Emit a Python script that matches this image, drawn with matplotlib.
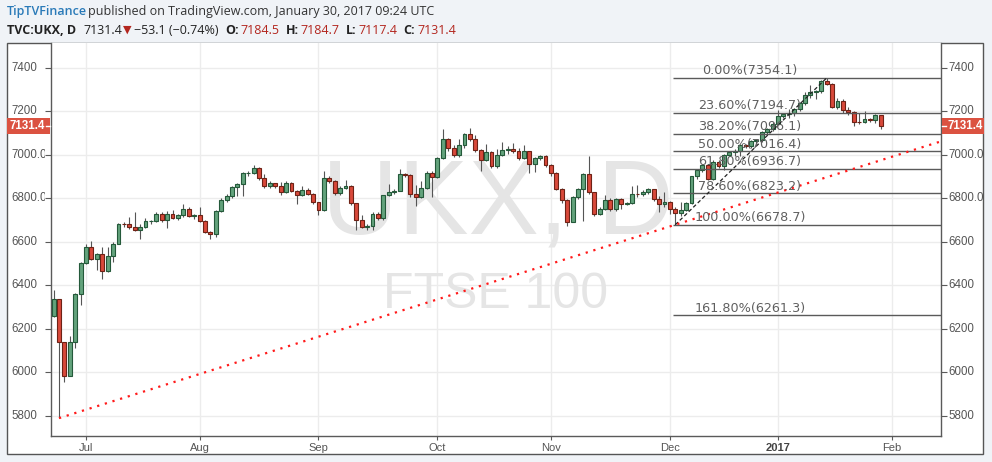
import numpy as np
import pandas as pd
import matplotlib
matplotlib.use("Agg")
import matplotlib.pyplot as plt
from matplotlib.transforms import Bbox, TransformedBbox, blended_transform_factory
from matplotlib.patches import Rectangle

# ---------------- data ----------------
holidays = ['2016-08-29', '2016-12-26', '2016-12-27', '2017-01-02']
dates = pd.bdate_range('2016-06-23', '2017-01-30', freq='C', holidays=holidays)

opens = [6261, 6338, 6139, 5982, 6140, 6360, 6504, 6578, 6522, 6545,
         6464, 6534, 6591, 6683, 6681, 6670, 6654, 6669, 6695, 6697,
         6729, 6700, 6730, 6710, 6724, 6750, 6721, 6724, 6694, 6645,
         6634, 6740, 6793, 6809, 6851, 6866, 6915, 6916, 6941, 6894,
         6859, 6869, 6859, 6829, 6869, 6836, 6817, 6838, 6821, 6782,
         6746, 6895, 6879, 6826, 6847, 6859, 6777, 6701, 6666, 6673,
         6730, 6710, 6814, 6831, 6835, 6911, 6909, 6818, 6808, 6849,
         6919, 6899, 6984, 7074, 7033, 7000, 7044, 7098, 7071, 7024,
         6978, 7014, 6948, 7000, 7022, 7027, 7020, 6986, 7017, 6958,
         6987, 6996, 6954, 6917, 6845, 6791, 6693, 6807, 6843, 6912,
         6828, 6730, 6753, 6793, 6750, 6795, 6776, 6778, 6820, 6818,
         6829, 6841, 6799, 6772, 6784, 6753, 6731, 6747, 6780, 6902,
         6932, 6954, 6890, 6969, 6949, 6999, 7012, 7017, 7044, 7041,
         7064, 7068, 7106, 7120, 7143, 7178, 7190, 7195, 7210, 7238,
         7275, 7290, 7292, 7338, 7327, 7220, 7248, 7208, 7198, 7151,
         7150, 7164, 7161, 7184.5]
highs = [6378, 6338, 6139, 6166, 6364, 6505, 6590, 6605, 6548, 6575,
         6577, 6598, 6686, 6690, 6714, 6737, 6680, 6710, 6700, 6735,
         6735, 6740, 6748, 6730, 6775, 6760, 6730, 6760, 6700, 6650,
         6745, 6800, 6822, 6857, 6870, 6920, 6925, 6953, 6945, 6914,
         6880, 6872, 6875, 6880, 6875, 6840, 6855, 6850, 6825, 6785,
         6925, 6905, 6885, 6855, 6883, 6862, 6780, 6723, 6680, 6738,
         6738, 6815, 6865, 6845, 6935, 6915, 6912, 6860, 6880, 6925,
         6925, 6990, 7120, 7078, 7045, 7075, 7100, 7123, 7090, 7028,
         7050, 7018, 7025, 7058, 7040, 7055, 7030, 7045, 7020, 6990,
         7000, 7000, 6960, 6920, 6850, 6795, 6810, 6850, 6915, 6997,
         6830, 6760, 6815, 6800, 6800, 6800, 6785, 6855, 6860, 6840,
         6850, 6845, 6810, 6830, 6790, 6760, 6785, 6785, 6905, 6935,
         6960, 6955, 6975, 6975, 7005, 7020, 7025, 7050, 7050, 7068,
         7075, 7110, 7125, 7150, 7205, 7195, 7210, 7215, 7245, 7290,
         7322, 7300, 7346, 7354.1, 7330, 7260, 7255, 7220, 7200, 7195,
         7200, 7170, 7190, 7184.7]
lows = [6255, 5788.7, 5953, 5982, 6110, 6310, 6499, 6515, 6470, 6431,
        6460, 6508, 6591, 6668, 6660, 6650, 6614, 6662, 6682, 6690,
        6690, 6664, 6705, 6700, 6715, 6712, 6705, 6690, 6640, 6614,
        6620, 6735, 6785, 6800, 6809, 6811, 6905, 6910, 6885, 6850,
        6850, 6850, 6815, 6825, 6830, 6775, 6810, 6815, 6775, 6722,
        6740, 6870, 6815, 6815, 6845, 6770, 6654, 6662, 6655, 6655,
        6700, 6700, 6810, 6820, 6832, 6900, 6805, 6766, 6800, 6845,
        6808, 6895, 6980, 7020, 6990, 6990, 7030, 7065, 7015, 6928,
        6970, 6940, 6942, 6995, 7005, 7010, 6975, 6980, 6915, 6920,
        6975, 6945, 6905, 6840, 6780, 6672, 6690, 6795, 6695, 6820,
        6720, 6725, 6745, 6740, 6740, 6750, 6770, 6775, 6805, 6810,
        6820, 6790, 6735, 6760, 6730, 6678.7, 6720, 6740, 6775, 6890,
        6920, 6883, 6885, 6940, 6930, 6995, 6995, 6995, 7030, 7030,
        7050, 7060, 7095, 7110, 7140, 7170, 7170, 7180, 7200, 7230,
        7260, 7255, 7285, 7320, 7215, 7210, 7195, 7185, 7131, 7140,
        7145, 7150, 7145, 7117.4]
closes = [6338, 6139, 5982, 6140, 6360, 6504, 6578, 6522, 6545, 6464,
          6534, 6591, 6683, 6681, 6670, 6654, 6669, 6695, 6697, 6729,
          6700, 6730, 6710, 6724, 6750, 6721, 6724, 6694, 6645, 6634,
          6740, 6793, 6809, 6851, 6866, 6915, 6916, 6941, 6894, 6859,
          6869, 6859, 6829, 6869, 6836, 6817, 6838, 6821, 6782, 6746,
          6895, 6879, 6826, 6847, 6859, 6777, 6701, 6666, 6673, 6730,
          6710, 6814, 6831, 6835, 6911, 6909, 6818, 6808, 6849, 6919,
          6899, 6984, 7074, 7033, 7000, 7044, 7098, 7071, 7024, 6978,
          7014, 6948, 7000, 7022, 7027, 7020, 6986, 7017, 6958, 6987,
          6996, 6954, 6917, 6845, 6791, 6693, 6807, 6843, 6912, 6828,
          6730, 6753, 6793, 6750, 6795, 6776, 6778, 6820, 6818, 6829,
          6841, 6799, 6772, 6784, 6753, 6731, 6747, 6780, 6902, 6932,
          6954, 6890, 6969, 6949, 6999, 7012, 7017, 7044, 7041, 7064,
          7068, 7106, 7120, 7143, 7178, 7190, 7195, 7210, 7238, 7275,
          7290, 7292, 7338, 7327, 7220, 7248, 7208, 7198, 7151, 7150,
          7164, 7161, 7184, 7131.4]

fib_labels = ['0.00%', '23.60%', '38.20%', '50.00%', '61.80%', '78.60%', '100.00%', '161.80%']
fib_values = [7354.1, 7194.7, 7096.1, 7016.4, 6936.7, 6823.2, 6678.7, 6261.3]
fib_low_date = '2016-12-02'
fib_high_date = '2017-01-16'
trend_dates = ['2016-06-24', '2016-12-02']
trend_values = [5788.7, 6678.7]

y_ticks = [5800, 6000, 6200, 6400, 6600, 6800, 7000, 7200, 7400]
y_tick_labels = ['5800', '6000', '6200', '6400', '6600', '6800.0', '7000.0', '7200', '7400']
month_labels = ['Jul', 'Aug', 'Sep', 'Oct', 'Nov', 'Dec', '2017', 'Feb']
month_starts = ['2016-07-01', '2016-08-01', '2016-09-01', '2016-10-03', '2016-11-01',
                '2016-12-01', '2017-01-03', '2017-02-01']

last_price = 7131.4

# ---------------- figure ----------------
W, H = 992, 462
fig = plt.figure(figsize=(W / 100, H / 100), dpi=100)
fig.patch.set_facecolor('#f0f3f7')

def fx(px):
    return px / W

def fy(py):  # py measured from top
    return 1 - py / H

# outer white frame
fig.patches.append(Rectangle((fx(7), fy(454)), fx(976), (454 - 43) / H,
                             transform=fig.transFigure, facecolor='white',
                             edgecolor='#555555', linewidth=1.0, zorder=-5))

ax = fig.add_axes([fx(51), fy(436), fx(941 - 51), (436 - 43) / H])
ax.set_facecolor('white')
ax.set_zorder(1)

n = len(dates)
x = np.arange(n)
idx = {d.strftime('%Y-%m-%d'): i for i, d in enumerate(dates)}

def pos(dstr):
    if dstr in idx:
        return idx[dstr]
    return (n - 1) + np.busday_count(dates[-1].strftime('%Y-%m-%d'), dstr)

ax.set_xlim(-0.48, 164.15)
ax.set_ylim(5706.5, 7515)

# grid
for yt in y_ticks:
    ax.axhline(yt, color='#ececec', lw=1.0, zorder=0.5)
mpos = [pos(d) for d in month_starts]
for mp in mpos:
    ax.axvline(mp, color='#ececec', lw=1.0, zorder=0.5)

# watermark
ax.text(0.502, 0.585, 'UKX, D', transform=ax.transAxes, ha='center', va='center',
        fontsize=76, color='#e5e5e5', family='Liberation Sans', zorder=0.6)
ax.text(0.5, 0.359, 'FTSE 100', transform=ax.transAxes, ha='center', va='center',
        fontsize=36, color='#e5e5e5', family='Liberation Sans', zorder=0.6)

# candles
o = np.array(opens, float); h = np.array(highs, float)
l = np.array(lows, float); c = np.array(closes, float)
up = c >= o
ax.vlines(x, l, h, color='#555555', lw=0.8, zorder=2)
bottom = np.minimum(o, c)
height = np.maximum(np.abs(c - o), 0.8)
ax.bar(x[up], height[up], bottom=bottom[up], width=0.72, color='#63a37c',
       edgecolor='#24593a', linewidth=0.8, zorder=3)
ax.bar(x[~up], height[~up], bottom=bottom[~up], width=0.72, color='#d8493a',
       edgecolor='#6e2216', linewidth=0.8, zorder=3)

# fibonacci
fl = pos(fib_low_date)
fh = pos(fib_high_date)
xmax = ax.get_xlim()[1]
ax.hlines(fib_values, fl - 0.4, xmax, color='#5a5a5a', lw=1.0, zorder=4)
for lab, v in zip(fib_labels, fib_values):
    ax.text(fl + 13.8, v + 3, f'{lab}({v:.1f})', ha='center', va='bottom',
            fontsize=9.2, color='#5f5f5f', family='DejaVu Sans', zorder=5)
ax.plot([fl, fh], [fib_values[6], fib_values[0]], color='#222222', lw=0.9,
        linestyle=(0, (3, 2)), zorder=4)

# trend line (red dotted)
tx = [pos(d) for d in trend_dates]
slope = (trend_values[1] - trend_values[0]) / (tx[1] - tx[0])
ax.plot([tx[0], xmax], [trend_values[0], trend_values[0] + slope * (xmax - tx[0])],
        color='#ff1a1a', lw=1.6, linestyle=(0, (1, 2.6)), zorder=4, clip_on=True)

# axes styling
ax.spines['top'].set_visible(False)
for s in ['left', 'right', 'bottom']:
    ax.spines[s].set_color('#5a5a5a')
    ax.spines[s].set_linewidth(1.0)
ax.set_yticks(y_ticks)
ax.tick_params(axis='y', which='both', direction='out', length=4, color='#5a5a5a',
               left=True, right=True, labelleft=False, labelright=False)
ax.set_xticks(mpos)
ax.set_xticklabels(month_labels)
ax.tick_params(axis='x', direction='out', length=3, color='#5a5a5a', pad=2,
               labelsize=8, labelcolor='#555555')
for t in ax.get_xticklabels():
    t.set_family('Liberation Sans')
    if t.get_text() == '2017':
        t.set_fontweight('bold')
        t.set_color('#444444')

# y labels left (clipped) and right
left_tr = blended_transform_factory(fig.transFigure, ax.transData)
clip_left = TransformedBbox(Bbox([[fx(7), 0], [fx(45), 1]]), fig.transFigure)
for yt, lab in zip(y_ticks, y_tick_labels):
    t = ax.text(fx(11), yt, lab, transform=left_tr, ha='left', va='center',
                fontsize=8.3, color='#555555', family='Liberation Sans', clip_on=True)
    t.set_clip_box(clip_left)
    ax.text(fx(948), yt, lab, transform=left_tr, ha='left', va='center',
            fontsize=8.3, color='#555555', family='Liberation Sans', clip_on=False)

# last price boxes
red_box = '#db5241'
box_h = 16 / H
ybox = ax.transData.transform((0, last_price))[1] / (H)
for x0, x1, tx0 in [(7, 50, 10), (941.5, 984, 948)]:
    fig.patches.append(Rectangle((fx(x0), ybox - box_h / 2), fx(x1 - x0), box_h,
                                 transform=fig.transFigure, facecolor=red_box,
                                 edgecolor='none', zorder=10))
    fig.text(fx(tx0), ybox, f'{last_price:.1f}', ha='left', va='center',
             fontsize=8.3, color='white', fontweight='bold', family='Liberation Sans', zorder=11)
fig.lines.append(plt.Line2D([fx(46), fx(50)], [ybox, ybox], transform=fig.transFigure,
                            color='white', lw=1, zorder=12))
fig.lines.append(plt.Line2D([fx(942), fx(946)], [ybox, ybox], transform=fig.transFigure,
                            color='white', lw=1, zorder=12))

# header
fig.canvas.draw()
r = fig.canvas.get_renderer()
fam = ['Open Sans', 'DejaVu Sans']

def put(xp, ytop, s, color='#333333', weight='normal', size=9.0):
    t = fig.text(fx(xp), fy(ytop), s, ha='left', va='center', color=color,
                 fontweight=weight, fontsize=size, family=fam)
    bb = t.get_window_extent(renderer=r)
    return bb.x1

xp = put(7, 12, 'TipTVFinance', color='#2a7ab8', weight='semibold')
put(xp + 1, 12, 'published on TradingView.com, January 30, 2017 09:24 UTC')

dk = '#222222'; rd = '#b3261e'
xp = put(7, 30, 'TVC:UKX, D', color=dk, weight='bold')
xp = put(xp + 7, 30, '7131.4', color=dk)
xp = put(xp + 1, 30, '▼', color=rd, size=8)
xp = put(xp + 3, 30, '\u221253.1 (\u22120.74%)', color=dk)
for k, v in [('O:', '7184.5'), ('H:', '7184.7'), ('L:', '7117.4'), ('C:', '7131.4')]:
    xp = put(xp + 6, 30, k, color=dk, weight='bold')
    xp = put(xp + 2, 30, v, color=rd)

fig.savefig('out.png', dpi=100, facecolor=fig.get_facecolor())
